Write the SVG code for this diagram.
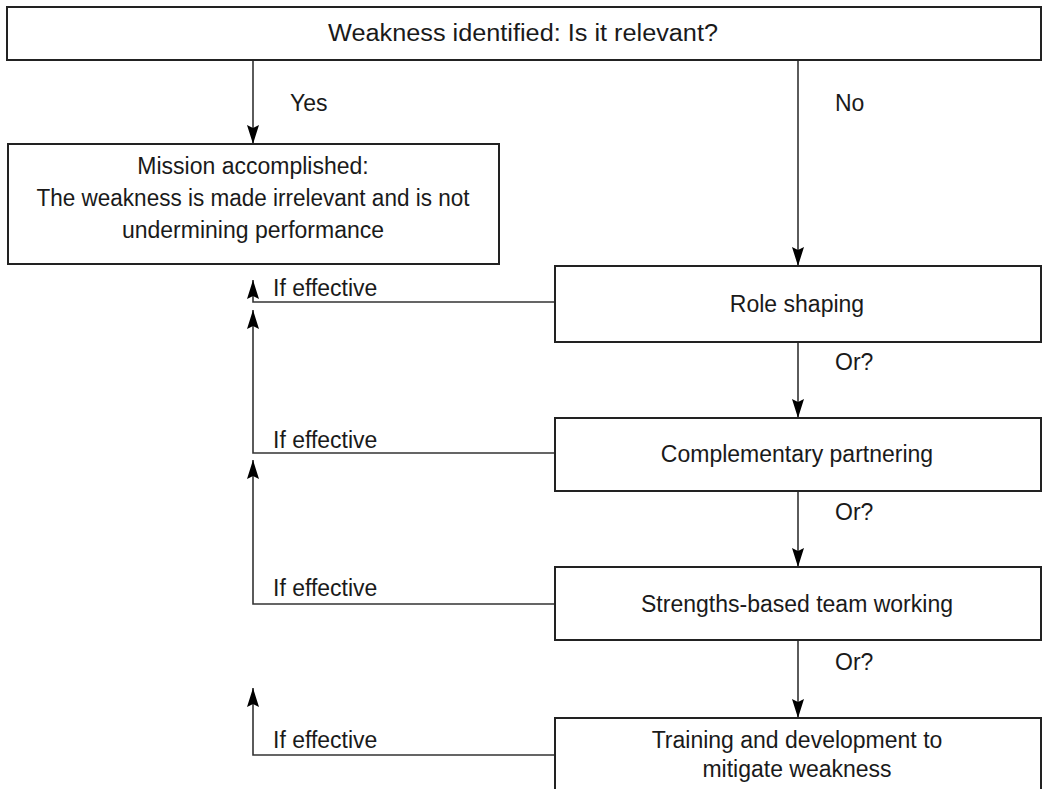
<svg xmlns="http://www.w3.org/2000/svg" width="1044" height="789" viewBox="0 0 1044 789">
  <style>
    .box { fill: #ffffff; stroke: #222222; stroke-width: 2; }
    .wire { fill: none; stroke: #333333; stroke-width: 1.6; }
    text { font-family: "Liberation Sans", Arial, sans-serif; font-size: 23px; fill: #1a1a1a; }
    .c { text-anchor: middle; }
  </style>
  <defs>
    <marker id="head" markerUnits="userSpaceOnUse" markerWidth="24" markerHeight="16" viewBox="-22 -8 24 16" refX="0" refY="0" orient="auto">
      <path d="M0,0 L-19,-6 L-16,0 L-19,6 Z" fill="#000000"/>
    </marker>
  </defs>

  <rect width="1044" height="789" fill="#ffffff"/>

  <!-- connectors -->
  <g id="connectors">
    <line class="wire" x1="253" y1="60" x2="253" y2="144" marker-end="url(#head)"/>
    <line class="wire" x1="798" y1="60" x2="798" y2="266" marker-end="url(#head)"/>
    <line class="wire" x1="798" y1="342" x2="798" y2="418" marker-end="url(#head)"/>
    <line class="wire" x1="798" y1="491" x2="798" y2="567" marker-end="url(#head)"/>
    <line class="wire" x1="798" y1="640" x2="798" y2="718" marker-end="url(#head)"/>
    <polyline class="wire" points="555,302 253,302 253,280" marker-end="url(#head)"/>
    <polyline class="wire" points="555,453 253,453 253,310" marker-end="url(#head)"/>
    <polyline class="wire" points="555,604 253,604 253,460" marker-end="url(#head)"/>
    <polyline class="wire" points="555,755 253,755 253,688" marker-end="url(#head)"/>

    <text x="290" y="111">Yes</text>
    <text x="835" y="111">No</text>
    <text x="835" y="370">Or?</text>
    <text x="835" y="520">Or?</text>
    <text x="835" y="670">Or?</text>
    <text x="273" y="296">If effective</text>
    <text x="273" y="448">If effective</text>
    <text x="273" y="596">If effective</text>
    <text x="273" y="748">If effective</text>
  </g>

  <g id="question">
    <rect class="box" x="7" y="7" width="1034" height="53"/>
    <text class="c" x="523" y="41" textLength="390" lengthAdjust="spacingAndGlyphs">Weakness identified: Is it relevant?</text>
  </g>

  <g id="accomplished">
    <rect class="box" x="8" y="144" width="491" height="120"/>
    <text class="c" x="253" y="174">Mission accomplished:</text>
    <text class="c" x="253" y="206" textLength="433" lengthAdjust="spacingAndGlyphs">The weakness is made irrelevant and is not</text>
    <text class="c" x="253" y="238">undermining performance</text>
  </g>

  <g id="role-shaping">
    <rect class="box" x="555" y="266" width="486" height="76"/>
    <text class="c" x="797" y="312">Role shaping</text>
  </g>

  <g id="partnering">
    <rect class="box" x="555" y="418" width="486" height="73"/>
    <text class="c" x="797" y="462">Complementary partnering</text>
  </g>

  <g id="team-working">
    <rect class="box" x="555" y="567" width="486" height="73"/>
    <text class="c" x="797" y="612">Strengths-based team working</text>
  </g>

  <g id="training">
    <rect class="box" x="555" y="718" width="486" height="90"/>
    <text class="c" x="797" y="748">Training and development to</text>
    <text class="c" x="797" y="777">mitigate weakness</text>
  </g>
</svg>
